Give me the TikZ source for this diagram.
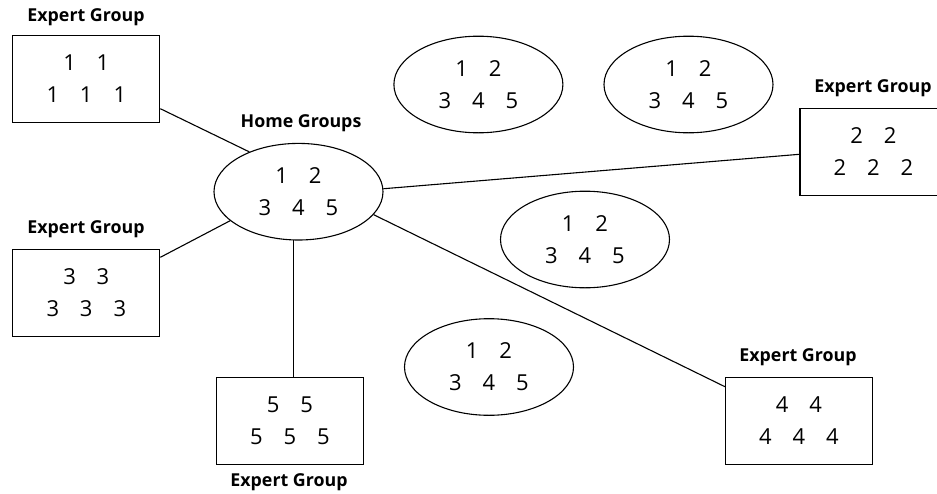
\documentclass[tikz,border=0pt]{standalone}
\usepackage{fontspec}
\setmainfont{Open Sans}
\usetikzlibrary{shapes.geometric}
\newcommand{\dg}[1]{\makebox[33.5pt]{#1}}
\newcommand{\gtext}[5]{\dg{#1}\dg{#2}\\\dg{#3}\dg{#4}\dg{#5}}
\tikzset{
  egbox/.style={draw, rectangle, line width=1.1pt, minimum width=147pt, minimum height=87pt, inner sep=0pt, align=center, font=\fontsize{22pt}{32pt}\selectfont},
  grpell/.style={draw, ellipse, line width=1.1pt, minimum width=169pt, minimum height=96.6pt, inner sep=0pt, align=center, font=\fontsize{22pt}{32pt}\selectfont},
  lbl/.style={inner sep=0pt, font=\fontsize{17.8pt}{22pt}\selectfont\bfseries},
  conn/.style={line width=1.1pt}
}
\begin{document}
\begin{tikzpicture}[x=1pt, y=-1pt]
\useasboundingbox (0,0) rectangle (937,493);
% expert groups
\node[egbox] (b1) at (86.3,78.8) {\gtext{1}{1}{1}{1}{1}};
\node[egbox] (b3) at (86.3,292.7) {\gtext{3}{3}{3}{3}{3}};
\node[egbox] (b5) at (290,420.8) {\gtext{5}{5}{5}{5}{5}};
\node[egbox] (b4) at (799,420.8) {\gtext{4}{4}{4}{4}{4}};
\node[egbox] (b2) at (873.5,151.7) {\gtext{2}{2}{2}{2}{2}};
% labels
\node[lbl] (l1) at (86,17) {Expert Group};
\node[lbl] (l3) at (86,229.5) {Expert Group};
\node[lbl] (l5) at (289,482) {Expert Group};
\node[lbl] (l4) at (798,357.5) {Expert Group};
\node[lbl] (l2) at (873,88.5) {Expert Group};
\node[lbl] (lh) at (301,123.5) {Home Groups};
% home groups
\node[grpell] (home) at (298.5,191.7) {\gtext{1}{2}{3}{4}{5}};
\node[grpell] (ea) at (478.4,84.5) {\gtext{1}{2}{3}{4}{5}};
\node[grpell] (eb) at (688.5,84.5) {\gtext{1}{2}{3}{4}{5}};
\node[grpell] (ec) at (585,239.5) {\gtext{1}{2}{3}{4}{5}};
\node[grpell] (ed) at (489,367) {\gtext{1}{2}{3}{4}{5}};
% connectors
\draw[conn] ([yshift=-29.9pt]b1.east) -- (home.141.1);
\draw[conn] ([yshift=35.4pt]b3.east) -- (home.203.2);
\draw[conn] (home.264.7) -- (home.264.7 |- b5.north);
\draw[conn] (home.2.3) -- ([yshift=-2.6pt]b2.west);
\draw[conn] (home.343.1) -- ([yshift=34.1pt]b4.west);
\end{tikzpicture}
\end{document}
